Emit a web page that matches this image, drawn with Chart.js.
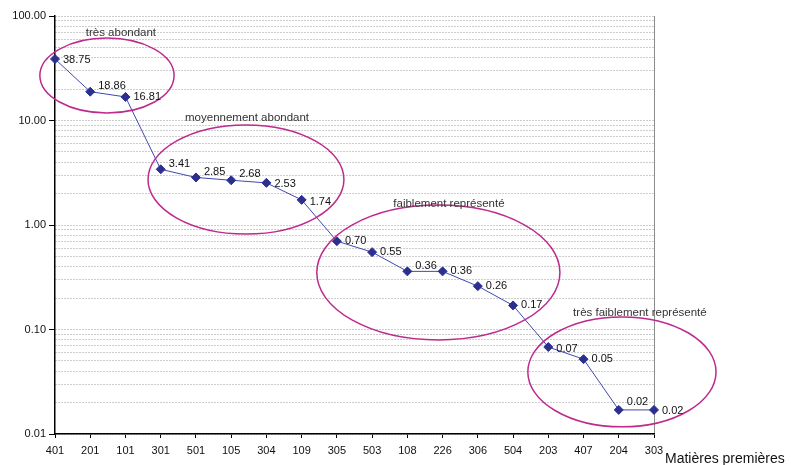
<!DOCTYPE html>
<html>
<head>
    <title>Matières premières</title>
    <script src="https://cdn.jsdelivr.net/npm/chart.js@4/dist/chart.umd.min.js"></script>
    <style>
        body {
            margin: 0;
            background-color: #fff;
            font-family: Arial, "Liberation Sans", sans-serif;
        }
        .wrap {
            width: 791px;
            height: 465px;
        }
    </style>
</head>
<body>
<div class="wrap"><canvas id="chart" width="791" height="465"></canvas></div>
<script>
    // categories (matières premières) and their share, log scale
    const categories = ['401', '201', '101', '301', '501', '105', '304', '109', '305',
        '503', '108', '226', '306', '504', '203', '407', '204', '303'];
    const values = [38.75, 18.86, 16.81, 3.41, 2.85, 2.68, 2.53, 1.74, 0.70,
        0.55, 0.36, 0.36, 0.26, 0.17, 0.068, 0.052, 0.017, 0.017];

    // y ticks with a label (powers of ten)
    const majorTicks = [0.01, 0.1, 1, 10, 100];

    // groups: name, x range (category index), y range (value), label anchor
    const groupNames = ['très abondant', 'moyennement abondant', 'faiblement représenté', 'très faiblement représenté'];
    const groupX = [[-0.43, 3.38], [2.64, 8.20], [7.43, 14.33], [13.42, 18.76]];
    const groupY = [[11.8, 61.5], [0.82, 9.06], [0.0795, 1.55], [0.0117, 0.132]];
    const groupLabelAt = [[1.87, 68.7], [5.45, 10.6], [11.18, 1.59], [16.6, 0.144]];

    // small vertical nudges for the data labels (px), like the original
    const labelDy = [1, -6, 0, -5, -5, -6, 1, 2, 0, 0, -5, 0, 0, 0, 2, 0, -8, 1];

    const magenta = '#bd2a8c';

    // all minor ticks 1..9 per decade
    const allTicks = [];
    for (let e = -2; e <= 2; e++) {
        for (let m = 1; m <= 9; m++) {
            const v = m * Math.pow(10, e);
            if (v <= 100.0001) allTicks.push(parseFloat(v.toPrecision(3)));
        }
    }

    const isMajor = function (v) {
        return majorTicks.some(function (t) { return Math.abs(t - v) < t * 1e-6; });
    };

    const groupsPlugin = {
        id: 'groups',
        afterDatasetsDraw: function (chart) {
            const ctx = chart.ctx;
            const xs = chart.scales.x;
            const ys = chart.scales.y;
            ctx.save();
            ctx.strokeStyle = magenta;
            ctx.lineWidth = 1.5;
            for (let g = 0; g < groupNames.length; g++) {
                const x0 = xs.getPixelForValue(groupX[g][0]);
                const x1 = xs.getPixelForValue(groupX[g][1]);
                const y0 = ys.getPixelForValue(groupY[g][1]);
                const y1 = ys.getPixelForValue(groupY[g][0]);
                ctx.beginPath();
                ctx.ellipse((x0 + x1) / 2, (y0 + y1) / 2, (x1 - x0) / 2, (y1 - y0) / 2, 0, 0, Math.PI * 2);
                ctx.stroke();
            }
            ctx.fillStyle = '#333';
            ctx.font = '11.5px Arial, "Liberation Sans", sans-serif';
            ctx.textAlign = 'center';
            ctx.textBaseline = 'middle';
            for (let g = 0; g < groupNames.length; g++) {
                ctx.fillText(groupNames[g],
                    xs.getPixelForValue(groupLabelAt[g][0]),
                    ys.getPixelForValue(groupLabelAt[g][1]));
            }

            // value labels
            const meta = chart.getDatasetMeta(0);
            ctx.fillStyle = '#111';
            ctx.font = '11px Arial, "Liberation Sans", sans-serif';
            ctx.textAlign = 'left';
            meta.data.forEach(function (pt, i) {
                ctx.fillText(values[i].toFixed(2), pt.x + 8, pt.y + labelDy[i]);
            });

            // axis title, off to the right of the last category
            ctx.fillStyle = '#111';
            ctx.font = '14px Arial, "Liberation Sans", sans-serif';
            ctx.textBaseline = 'alphabetic';
            ctx.fillText('Matières premières', chart.chartArea.right + 11, 463);
            ctx.restore();
        }
    };

    const chart = new Chart('chart', {
        type: 'line',
        data: {
            labels: categories,
            datasets: [{
                data: values,
                borderColor: '#3f48b0',
                borderWidth: 1,
                backgroundColor: '#2b2f8f',
                pointBackgroundColor: '#2b2f8f',
                pointBorderColor: '#2b2f8f',
                pointStyle: 'rectRot',
                pointRadius: 4.5,
                pointBorderWidth: 1,
                tension: 0,
                fill: false
            }]
        },
        options: {
            responsive: false,
            animation: false,
            layout: {
                padding: {top: 16, right: 137, left: 0, bottom: 0}
            },
            plugins: {
                legend: {display: false},
                tooltip: {enabled: false}
            },
            scales: {
                x: {
                    offset: false,
                    afterFit: function (scale) { scale.height = 31; },
                    grid: {
                        drawOnChartArea: true,
                        color: function (c) { return c.index === categories.length - 1 ? '#8c8c8c' : 'rgba(0,0,0,0)'; },
                        tickColor: '#000',
                        tickLength: 4,
                        tickBorderDash: []
                    },
                    border: {color: '#000', width: 1.5},
                    ticks: {
                        color: '#111',
                        font: {family: 'Arial, "Liberation Sans", sans-serif', size: 11},
                        maxRotation: 0,
                        autoSkip: false,
                        padding: 6
                    }
                },
                y: {
                    type: 'logarithmic',
                    min: 0.01,
                    max: 100,
                    afterFit: function (scale) { scale.width = 55; },
                    afterBuildTicks: function (scale) {
                        scale.ticks = allTicks.map(function (v) { return {value: v, major: isMajor(v)}; });
                    },
                    grid: {
                        color: '#9a9a9a',
                        lineWidth: 1,
                        tickLength: 6,
                        tickColor: function (c) { return c.tick && isMajor(c.tick.value) ? '#000' : 'rgba(0,0,0,0)'; },
                        tickBorderDash: []
                    },
                    border: {color: '#000', width: 1.5, dash: [1, 2]},
                    ticks: {
                        autoSkip: false,
                        color: '#111',
                        padding: 3,
                        font: {family: 'Arial, "Liberation Sans", sans-serif', size: 11},
                        callback: function (v) { return isMajor(v) ? Number(v).toFixed(2) : ''; }
                    }
                }
            }
        },
        plugins: [groupsPlugin]
    });
</script>
</body>
</html>
